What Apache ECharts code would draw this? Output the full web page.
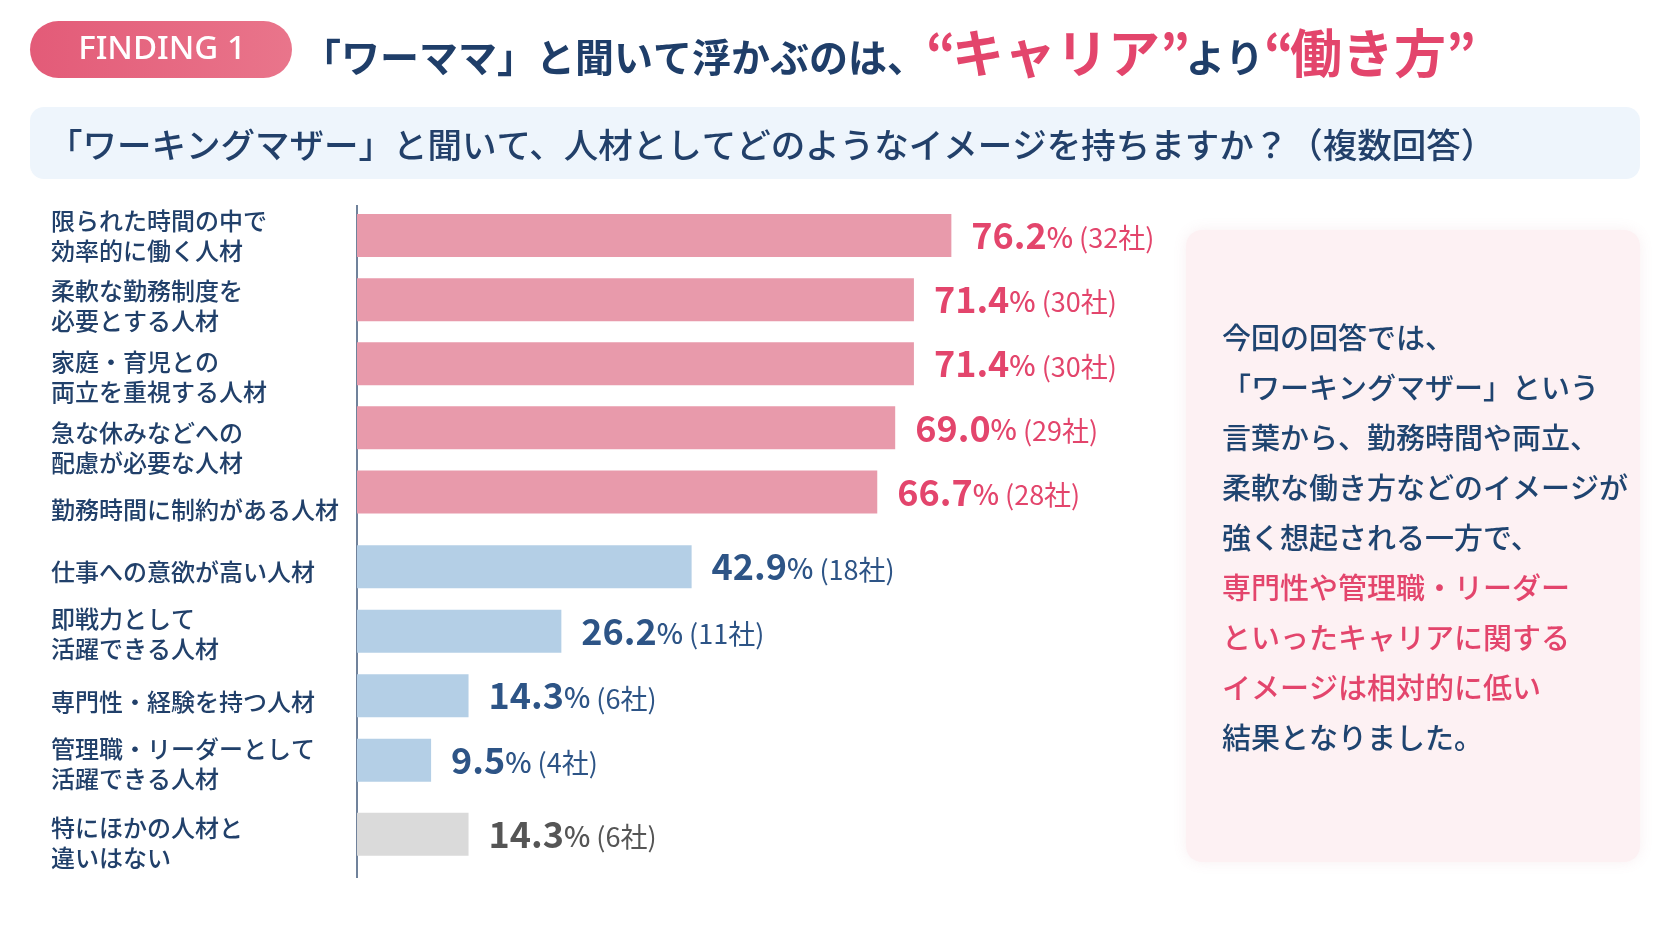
<!DOCTYPE html>
<html>
<head>
<meta charset="utf-8">
<script src="https://cdn.jsdelivr.net/npm/echarts@6/dist/echarts.min.js"></script>
<style>
  html, body { margin: 0; padding: 0; background: #ffffff; }
  #main { width: 1672px; height: 941px; }
</style>
</head>
<body>
<div id="main"></div>
<script>
// data
const categories = [
  '限られた時間の中で\n効率的に働く人材',
  '柔軟な勤務制度を\n必要とする人材',
  '家庭・育児との\n両立を重視する人材',
  '急な休みなどへの\n配慮が必要な人材',
  '勤務時間に制約がある人材',
  '仕事への意欲が高い人材',
  '即戦力として\n活躍できる人材',
  '専門性・経験を持つ人材',
  '管理職・リーダーとして\n活躍できる人材',
  '特にほかの人材と\n違いはない'
];
const percents = [76.2, 71.4, 71.4, 69.0, 66.7, 42.9, 26.2, 14.3, 9.5, 14.3];
const companies = [32, 30, 30, 29, 28, 18, 11, 6, 4, 6];
const groupSizes = [5, 4, 1]; // 働き方 / キャリア / その他

const FONT = '"Noto Sans CJK JP", "Noto Sans", sans-serif';
const NAVY = '#21406a';
const PINK = '#e3456c';

const barColors = ['#e89aab', '#b4cfe6', '#dadada'];
const labelColors = [PINK, '#2d5486', '#555555'];
// the category names sit a little below their bars in the original (px)
const labelNudge = [0, 6, 13, 20, 18, 5, 3, 6, 4, 9];

// one grid per group, so the gaps between groups can differ
const gridBox = [
  { top: 203.5, height: 320.5 },
  { top: 534.5, height: 258 },
  { top: 802, height: 64.5 }
];

// rich styles for the category names: a spacer line pushes the block down
const catRich = {
  t: { fontFamily: FONT, fontSize: 24, fontWeight: 500, color: NAVY, lineHeight: 30, align: 'left' }
};
labelNudge.forEach(function (d, i) {
  catRich['s' + i] = { fontSize: 1, lineHeight: Math.max(1, d * 2), align: 'left' };
});

const chart = echarts.init(document.getElementById('main'));

const grids = [], xAxes = [], yAxes = [], series = [];
let start = 0;
groupSizes.forEach(function (n, g) {
  const offset = start;
  const cats = categories.slice(start, start + n);
  const vals = percents.slice(start, start + n);
  const cnts = companies.slice(start, start + n);
  grids.push({
    left: 357, width: 780, top: gridBox[g].top, height: gridBox[g].height,
    containLabel: false, outerBoundsMode: 'none'
  });
  xAxes.push({ type: 'value', gridIndex: g, min: 0, max: 100, show: false });
  yAxes.push({
    type: 'category', gridIndex: g, inverse: true, data: cats,
    axisLine: { show: false }, axisTick: { show: false },
    axisLabel: {
      interval: 0, margin: 306, align: 'left', color: NAVY, fontFamily: FONT,
      fontSize: 24, fontWeight: 500, lineHeight: 30,
      formatter: function (value, idx) {
        const k = offset + idx;
        const lines = value.split('\n').map(function (s) { return '{t|' + s + '}'; });
        if (labelNudge[k] > 0) lines.unshift('{s' + k + '| }');
        return lines.join('\n');
      },
      rich: catRich
    }
  });
  series.push({
    type: 'bar', xAxisIndex: g, yAxisIndex: g, data: vals, barWidth: 43,
    itemStyle: { color: barColors[g] },
    animation: false,
    label: {
      show: true, position: 'right', distance: 20,
      formatter: function (p) {
        return '{num|' + p.value.toFixed(1) + '}{pct|%}{cnt| (' + cnts[p.dataIndex] + '社)}';
      },
      rich: {
        num: { fontFamily: FONT, fontSize: 36, fontWeight: 'bold', color: labelColors[g], verticalAlign: 'bottom' },
        pct: { fontFamily: FONT, fontSize: 28, fontWeight: 500, color: labelColors[g], verticalAlign: 'bottom', padding: [0, 0, 2, 0] },
        cnt: { fontFamily: FONT, fontSize: 27, fontWeight: 'normal', color: labelColors[g], verticalAlign: 'bottom', padding: [0, 0, 2, 0] }
      }
    }
  });
  start += n;
});

const option = {
  backgroundColor: '#ffffff',
  grid: grids,
  xAxis: xAxes,
  yAxis: yAxes,
  series: series,
  graphic: [
    // FINDING pill
    {
      type: 'rect', shape: { x: 30, y: 21, width: 262, height: 57, r: 28.5 },
      style: {
        fill: new echarts.graphic.LinearGradient(0, 0, 1, 0, [
          { offset: 0, color: '#e35b78' }, { offset: 1, color: '#e9758b' }
        ])
      }
    },
    {
      type: 'text', x: 162, y: 50,
      style: {
        text: 'FINDING 1', fill: '#ffffff', font: '500 33px "Noto Sans", sans-serif',
        align: 'center', verticalAlign: 'middle'
      }
    },
    // headline
    {
      type: 'text', x: 302, y: 53,
      style: {
        text: '{n|「ワーママ」と聞いて浮かぶのは、}{q|“}{p|キャリア}{q|”}{n|より}{q|“}{p|働き方}{q|”}',
        verticalAlign: 'middle',
        rich: {
          n: { fontFamily: FONT, fontSize: 39, fontWeight: 'bold', fill: '#1f3e69', verticalAlign: 'bottom', padding: [0, 0, 2, 0] },
          p: { fontFamily: FONT, fontSize: 52, fontWeight: 'bold', fill: PINK, verticalAlign: 'bottom' },
          q: { fontFamily: FONT, fontSize: 52, fontWeight: 'bold', fill: PINK, verticalAlign: 'bottom', width: 26 }
        }
      }
    },
    // question box
    {
      type: 'rect', shape: { x: 30, y: 107, width: 1610, height: 72, r: 14 },
      style: { fill: '#eef5fc' }
    },
    {
      type: 'text', x: 48, y: 145,
      style: {
        text: '「ワーキングマザー」と聞いて、人材としてどのようなイメージを持ちますか？（複数回答）',
        font: '500 34.5px ' + FONT, fill: '#22406a', verticalAlign: 'middle'
      }
    },
    // axis line
    {
      type: 'line', shape: { x1: 357, y1: 205, x2: 357, y2: 878 },
      style: { stroke: '#40597a', lineWidth: 1.5 }
    },
    // comment panel
    {
      type: 'rect', shape: { x: 1186, y: 230, width: 454, height: 632, r: 16 },
      style: { fill: '#fdf1f3', shadowBlur: 14, shadowColor: 'rgba(200,120,140,0.12)' }
    },
    {
      type: 'text', x: 1222, y: 313,
      style: {
        text: [
          '{n|今回の回答では、}',
          '{n|「ワーキングマザー」という}',
          '{n|言葉から、勤務時間や両立、}',
          '{n|柔軟な働き方などのイメージが}',
          '{n|強く想起される一方で、}',
          '{p|専門性や管理職・リーダー}',
          '{p|といったキャリアに関する}',
          '{p|イメージは相対的に低い}',
          '{n|結果となりました。}'
        ].join('\n'),
        verticalAlign: 'top',
        rich: {
          n: { fontFamily: FONT, fontSize: 29, fontWeight: 500, fill: '#1f4470', lineHeight: 50 },
          p: { fontFamily: FONT, fontSize: 29, fontWeight: 500, fill: PINK, lineHeight: 50 }
        }
      }
    }
  ]
};

chart.setOption(option);
</script>
</body>
</html>
